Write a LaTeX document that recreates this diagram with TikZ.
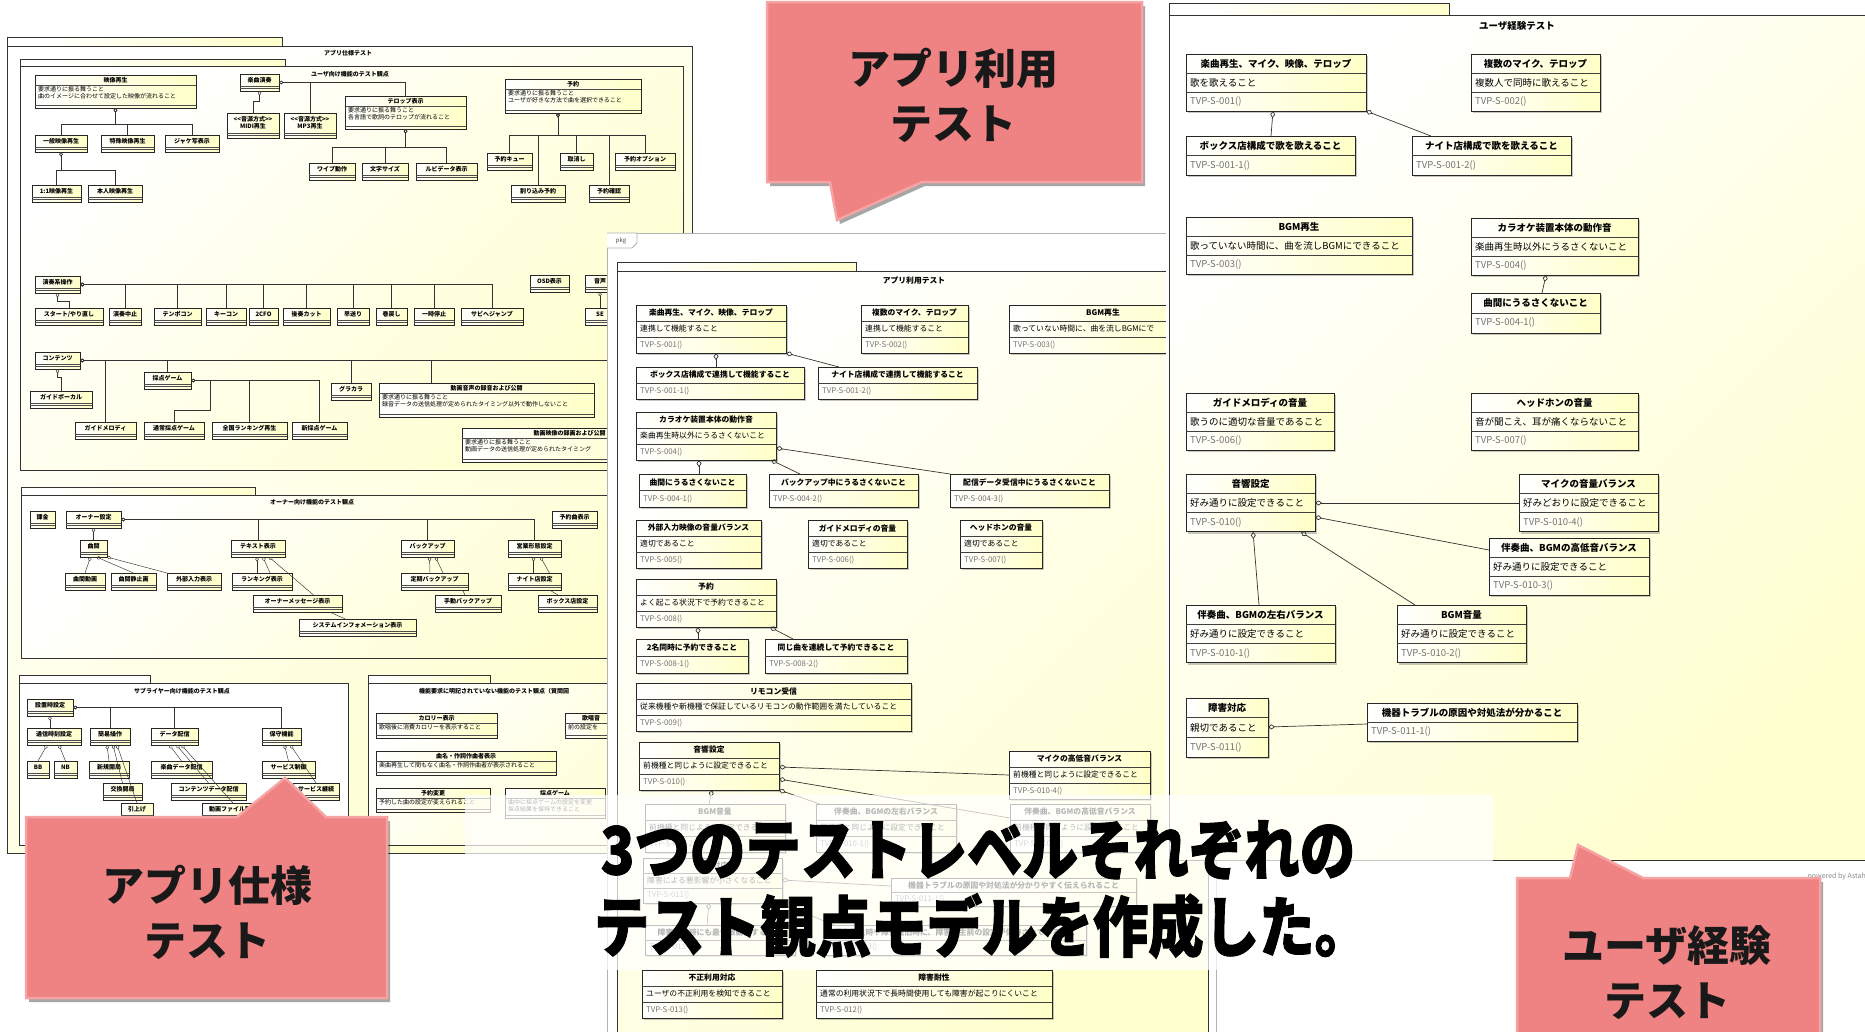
\documentclass[tikz,border=0pt]{standalone}
\usepackage{fontspec}
\setmainfont{Noto Sans CJK JP}
\newfontfamily\capfont{Noto Sans CJK JP}[BoldFeatures={FakeBold=1.6}]
\usetikzlibrary{calc,arrows.meta,shadows}

\newcommand{\pfont}{\fontsize{7.8}{9}\selectfont}

% box: title, attribute, operation
\newcommand{\tvpthree}[8]{%
	\node[cls, minimum width=#4, minimum height=3*#5, anchor=north west] (#1) at (#2,#3) {};
	\draw[rowline] ($(#1.north west)+(0,#5)$) -- ($(#1.north east)+(0,#5)$);
	\draw[rowline] ($(#1.north west)+(0,2*#5)$) -- ($(#1.north east)+(0,2*#5)$);
	\node[ttl] (#1-t) at ($(#1.north)+(0,0.5*#5)$) {#6};
	\node[att] (#1-a) at ($(#1.north west)+(4,1.5*#5)$) {#7};
	\node[opr] (#1-o) at ($(#1.north west)+(4,2.5*#5)$) {#8};}
% box: title, operation
\newcommand{\tvptwo}[7]{%
	\node[cls, minimum width=#4, minimum height=2*#5, anchor=north west] (#1) at (#2,#3) {};
	\draw[rowline] ($(#1.north west)+(0,#5)$) -- ($(#1.north east)+(0,#5)$);
	\node[ttl] (#1-t) at ($(#1.north)+(0,0.5*#5)$) {#6};
	\node[opr] (#1-o) at ($(#1.north west)+(4,1.5*#5)$) {#7};}
% small box, name only
\newcommand{\lvbox}[5]{%
	\node[lcls, minimum width=#4, minimum height=17, anchor=north west] (#1) at (#2,#3) {};
	\draw[lrow] ($(#1.north west)+(0,12)$) -- ($(#1.north east)+(0,12)$);
	\draw[lrow] ($(#1.north west)+(0,14.5)$) -- ($(#1.north east)+(0,14.5)$);
	\node[ttl] (#1-t) at ($(#1.north)+(0,6.2)$) {#5};}
% small box, two line name
\newcommand{\lvtall}[6]{%
	\node[lcls, minimum width=#4, minimum height=#5, anchor=north west] (#1) at (#2,#3) {};
	\draw[lrow] ($(#1.south west)+(0,-5)$) -- ($(#1.south east)+(0,-5)$);
	\draw[lrow] ($(#1.south west)+(0,-2.5)$) -- ($(#1.south east)+(0,-2.5)$);
	\node[ttl, align=center] (#1-t) at ($(#1.north)+(0,0.5*#5-2.5)$) {#6};}
% small box with text
\newcommand{\lvnote}[7]{%
	\node[lcls, minimum width=#4, minimum height=#5, anchor=north west] (#1) at (#2,#3) {};
	\draw[lrow] ($(#1.north west)+(0,10)$) -- ($(#1.north east)+(0,10)$);
	\draw[lrow] ($(#1.south west)+(0,-3)$) -- ($(#1.south east)+(0,-3)$);
	\node[ttl] (#1-t) at ($(#1.north)+(0,5)$) {#6};
	\node[lbody] (#1-b) at ($(#1.north west)+(3,11.5)$) {#7};}

\begin{document}
\begin{tikzpicture}[x=1pt, y=-1pt,
	cls/.style={draw=black!85, line width=0.9pt, left color=white, right color=boxyel, inner sep=0pt, outer sep=0pt,
		drop shadow={shadow xshift=1.6pt, shadow yshift=-1.6pt, fill=black, opacity=0.22}},
	lcls/.style={draw=black!85, line width=0.7pt, left color=white, right color=boxyel, inner sep=0pt, outer sep=0pt,
		drop shadow={shadow xshift=1.1pt, shadow yshift=-1.1pt, fill=black, opacity=0.22}},
	rowline/.style={draw=black!75, line width=0.6pt},
	lrow/.style={draw=black!70, line width=0.45pt},
	ttl/.style={font=\bfseries\pfont, inner sep=0pt},
	att/.style={font=\pfont, anchor=west, inner sep=0pt},
	opr/.style={font=\pfont, text=black!55, anchor=west, inner sep=0pt},
	lbody/.style={font=\pfont, anchor=north west, align=left, inner sep=0pt},
	ptitle/.style={font=\bfseries\pfont, inner sep=0pt},
	frm/.style={draw=black!80, line width=0.9pt},
	pkgfill/.style={top color=white, bottom color=panyel, shading angle=45},
	outf/.style={draw=black!30, line width=0.8pt, fill=white},
	agg/.style={{Diamond[open,length=7pt,width=5pt]}-, draw=black!80, line width=0.7pt},
	lagg/.style={{Diamond[open,length=4.5pt,width=3.5pt]}-, draw=black!80, line width=0.45pt},
	lline/.style={draw=black!80, line width=0.45pt},
	calltxt/.style={font=\bfseries\fontsize{42}{55}\selectfont, align=center, text=black!90, inner sep=0pt},
	captxt/.style={font=\capfont\bfseries\fontsize{66}{70}\selectfont, inner sep=0pt}]
	\definecolor{boxyel}{HTML}{FFFFC8}
	\definecolor{panyel}{HTML}{FFFFD0}
	\definecolor{callred}{HTML}{EF8282}
	\definecolor{callrim}{HTML}{F5A3A3}
	\useasboundingbox (0,0) rectangle (1865,1031);
	\fill[white] (0,0) rectangle (1865,1031);

	% アプリ仕様テスト
	\renewcommand{\pfont}{\fontsize{6}{7}\selectfont}
	\draw[frm, pkgfill] (7,37) rectangle (282,46);
	\draw[frm, pkgfill] (7,46) rectangle (692,853);
	\node[ptitle] (specT) at (348,53) {アプリ仕様テスト};
	% ユーザ向け
	\draw[frm, pkgfill] (20,59) rectangle (285,66);
	\draw[frm, pkgfill] (20,66) rectangle (683,470);
	\node[ptitle] (userT) at (350,74) {ユーザ向け機能のテスト観点};
	\lvnote{L1}{35}{75}{161}{33}{映像再生}{要求通りに振る舞うこと\\曲のイメージに合わせて設定した映像が流れること}
	\lvbox{L2}{35}{135}{52}{一般映像再生}
	\lvbox{L3}{101}{135}{53}{特殊映像再生}
	\lvbox{L4}{165}{135}{54}{ジャケ写表示}
	\lvbox{L5}{32}{185}{49}{1:1映像再生}
	\lvbox{L6}{88}{185}{54}{本人映像再生}
	\lvbox{L7}{240}{74}{39}{楽曲演奏}
	\lvtall{L8}{227}{113}{52}{25}{<{}<音源方式>{}>\\MIDI再生}
	\lvtall{L9}{284}{113}{52}{25}{<{}<音源方式>{}>\\MP3再生}
	\lvnote{L10}{345}{96}{121}{33}{テロップ表示}{要求通りに振る舞うこと\\各言語で歌詞のテロップが流れること}
	\lvbox{L11}{309}{163}{46}{ワイプ動作}
	\lvbox{L12}{362}{163}{46}{文字サイズ}
	\lvbox{L13}{416}{163}{61}{ルビデータ表示}
	\lvnote{L14}{505}{79}{136}{34}{予約}{要求通りに振る舞うこと\\ユーザが好きな方法で曲を選択できること}
	\lvbox{L15}{487}{153}{45}{予約キュー}
	\lvbox{L16}{511}{185}{54}{割り込み予約}
	\lvbox{L17}{560}{153}{33}{取消し}
	\lvbox{L18}{589}{185}{40}{予約確認}
	\lvbox{L19}{615}{153}{60}{予約オプション}
	\foreach \kid in {L2,L3,L4} \draw[lagg] (L1.south) -- ++(0,16) -| (\kid.north);
	\foreach \kid in {L5,L6} \draw[lagg] (L2.south) -- ++(0,18) -| (\kid.north);
	\draw[lagg] (L7.south) -- ++(0,10) -| (L8.north);
	\foreach \kid in {L9,L10} \draw[lagg] (L7.east) -| (\kid.north);
	\foreach \kid in {L11,L12,L13} \draw[lagg] (L10.south) -- ++(0,18) -| (\kid.north);
	\foreach \kid in {L15,L16,L17,L18,L19} \draw[lagg] ($(L14.south west)+(53,0)$) -- ++(0,22) -| (\kid.north);
	% 演奏系操作
	\lvbox{L20}{35}{276}{45}{演奏系操作}
	\lvbox{P1}{35}{308}{68}{スタート/やり直し}
	\lvbox{P2}{109}{308}{32}{演奏中止}
	\lvbox{P3}{154}{308}{47}{テンポコン}
	\lvbox{P4}{206}{308}{40}{キーコン}
	\lvbox{P5}{249}{308}{29}{2CFO}
	\lvbox{P6}{283}{308}{47}{後奏カット}
	\lvbox{P7}{337}{308}{32}{早送り}
	\lvbox{P8}{376}{308}{31}{巻戻し}
	\lvbox{P9}{414}{308}{40}{一時停止}
	\lvbox{P10}{461}{308}{62}{サビへジャンプ}
	\draw[lagg] (L20.south) -- ++(0,8) -| (P1.north);
	\foreach \kid in {P2,P3,P4,P5,P6,P7,P8,P9,P10} \draw[lagg] (L20.east) -| (\kid.north);
	\lvbox{L22}{530}{275}{39}{OSD表示}
	\lvbox{L23}{585}{275}{30}{音声}
	\lvbox{L23b}{585}{308}{30}{SE}
	\draw[lagg] (L23.south) -- (L23b.north);
	% コンテンツ
	\lvbox{L24}{35}{352}{45}{コンテンツ}
	\lvbox{L25}{30}{391}{62}{ガイドボーカル}
	\lvbox{L26}{75}{422}{61}{ガイドメロディ}
	\lvbox{L27}{144}{372}{47}{採点ゲーム}
	\lvbox{L28}{144}{422}{60}{通常採点ゲーム}
	\lvbox{L29}{212}{422}{75}{全国ランキング再生}
	\lvbox{L30}{292}{422}{55}{新採点ゲーム}
	\lvbox{L31}{331}{383}{40}{グラカラ}
	\lvnote{L32}{379}{383}{215}{34}{動画音声の録音および公開}{要求通りに振る舞うこと\\録音データの送信処理が定められたタイミング以外で動作しないこと}
	\lvnote{L33}{462}{428}{215}{34}{動画映像の録画および公開}{要求通りに振る舞うこと\\動画データの送信処理が定められたタイミング}
	\draw[lagg] (L24.south) -- ++(0,8) -| (L25.north);
	\foreach \kid in {L26,L27,L31} \draw[lagg] (L24.east) -| (\kid.north);
	\draw[lagg] (L24.east) -| ($(L32.north west)+(52,0)$);
	\draw[lagg] (L24.east) -| ($(L33.north west)+(150,0)$);
	\draw[lagg] (L27.east) -| ($(L28.north)+(36,-12)$) -| (L28.north);
	\foreach \kid in {L29,L30} \draw[lagg] (L27.east) -| (\kid.north);

	% オーナー向け
	\draw[frm, pkgfill] (21,487) rectangle (255,495);
	\draw[frm, pkgfill] (21,495) rectangle (683,658);
	\node[ptitle] (ownT) at (312,502) {オーナー向け機能のテスト観点};
	\lvbox{O1}{30}{511}{25}{課金}
	\lvbox{O2}{66}{511}{55}{オーナー設定}
	\lvbox{O3}{552}{511}{45}{予約曲表示}
	\lvbox{O4}{80}{540}{27}{曲間}
	\lvbox{O5}{231}{540}{54}{テキスト表示}
	\lvbox{O6}{401}{540}{53}{バックアップ}
	\lvbox{O7}{508}{540}{53}{営業形態設定}
	\lvbox{O8}{65}{573}{40}{曲間動画}
	\lvbox{O9}{111}{573}{45}{曲間静止画}
	\lvbox{O10}{167}{573}{54}{外部入力表示}
	\lvbox{O11}{232}{573}{60}{ランキング表示}
	\lvbox{O12}{253}{595}{89}{オーナーメッセージ表示}
	\lvbox{O13}{299}{619}{117}{システムインフォメーション表示}
	\lvbox{O14}{401}{573}{67}{定期バックアップ}
	\lvbox{O15}{435}{595}{66}{手動バックアップ}
	\lvbox{O16}{508}{573}{53}{ナイト店設定}
	\lvbox{O17}{538}{595}{59}{ボックス店設定}
	\draw[lagg] (O2.south) -- (O4.north);
	\foreach \kid in {O5,O6,O7} \draw[lagg] (O2.east) -| (\kid.north);
	\draw[lagg] ($(O4.south)+(-3,0)$) -- (O8.north);
	\draw[lagg] ($(O4.south)+(3,0)$) -- (O9.north);
	\draw[lagg] (O4.south east) -- (O10.north west);
	\draw[lagg] ($(O5.south)+(-1,0)$) -- ($(O11.north)+(-5,0)$);
	\draw[lagg] ($(O5.south)+(5,0)$) -- ($(O11.north)+(8,0)$);
	\draw[lagg] ($(O5.south)+(11,0)$) -- ($(O12.north)+(16,0)$);
	\draw[lline] ($(O12.south)+(32,0)$) -- ($(O13.north)+(-12,0)$);
	\draw[lagg] ($(O6.south)+(2,0)$) -- ($(O14.north west)+(29,0)$);
	\draw[lagg] ($(O6.south)+(8,0)$) -- ($(O14.north west)+(42,0)$);
	\draw[lline] ($(O14.south)+(28,0)$) -- ($(O15.north)+(-3,0)$);
	\draw[lagg] ($(O7.south)+(-1,0)$) -- ($(O16.north)+(-1,0)$);
	\draw[lagg] ($(O7.south)+(6,0)$) -- ($(O16.north)+(15,0)$);
	\draw[lline] ($(O16.south)+(15,0)$) -- ($(O17.north west)+(20,0)$);

	% サプライヤー向け
	\draw[frm, fill=white] (19,675) rectangle (150,683);
	\draw[frm, fill=white] (19,683) rectangle (348,845);
	\node[ptitle] (supT) at (182,691) {サプライヤー向け機能のテスト観点};
	\lvbox{S1}{27}{699}{46}{設置時設定}
	\lvbox{S2}{27}{728}{54}{通信時刻設定}
	\lvbox{S3}{90}{728}{40}{簡易操作}
	\lvbox{S4}{151}{728}{47}{データ配信}
	\lvbox{S5}{262}{728}{39}{保守機能}
	\lvbox{S6}{27}{761}{22}{BB}
	\lvbox{S7}{54}{761}{23}{NB}
	\lvbox{S8}{89}{761}{40}{新規開局}
	\lvbox{S9}{103}{783}{39}{交換開局}
	\lvbox{S10}{121}{803}{32}{引上げ}
	\lvbox{S11}{151}{761}{61}{楽曲データ配信}
	\lvbox{S12}{171}{783}{75}{コンテンツデータ配信}
	\lvbox{S13}{202}{803}{62}{動画ファイル配信}
	\lvbox{S14}{262}{761}{53}{サービス制御}
	\lvbox{S15}{293}{783}{46}{サービス継続}
	\draw[lagg] (S1.south) -- (S1.south |- S2.north);
	\foreach \kid in {S3,S4,S5} \draw[lagg] (S1.east) -| (\kid.north);
	\draw[lagg] ($(S2.south)+(-7,0)$) -- (S6.north);
	\draw[lagg] ($(S2.south)+(5,0)$) -- (S7.north);
	\draw[lagg] ($(S3.south)+(-3,0)$) -- (S8.north);
	\draw[lagg] ($(S3.south)+(3,0)$) -- (S9.north);
	\draw[lagg] ($(S3.south)+(7,0)$) -- (S10.north);
	\draw[lagg] ($(S4.south)+(-5,0)$) -- (S11.north);
	\draw[lagg] ($(S4.south)+(2,0)$) -- (S12.north);
	\draw[lagg] ($(S4.south)+(7,0)$) -- (S13.north);
	\draw[lagg] ($(S5.south)+(3,0)$) -- (S14.north);
	\draw[lagg] ($(S5.south)+(9,0)$) -- (S15.north);

	% 機能要求外
	\draw[frm, pkgfill] (368,675) rectangle (490,683);
	\draw[frm, pkgfill] (368,683) rectangle (683,845);
	\node[ptitle, anchor=west] (nonT) at (419,691) {機能要求に明記されていない機能のテスト観点（質問回};
	\lvnote{N1}{376}{713}{121}{25}{カロリー表示}{歌唱後に消費カロリーを表示すること}
	\lvnote{N2}{565}{713}{52}{25}{歌唱音}{前の設定を}
	\lvnote{N3}{376}{751}{180}{24}{曲名・作詞作曲者表示}{楽曲再生して間もなく曲名・作詞作曲者が表示されること}
	\lvnote{N4}{376}{788}{114}{24}{予約変更}{予約した曲の設定が変えられること}
	\lvnote{N5}{505}{788}{100}{30}{採点ゲーム}{曲中に採点ゲームの設定を変更\\採点結果を保持できること}

	% アプリ利用テスト
	\renewcommand{\pfont}{\fontsize{7.8}{9}\selectfont}
	\draw[outf] (607,233) rectangle (1216,1040);
	\draw[outf] (607,233) -- (637,233) -- (637,243) -- (632,248) -- (607,248);
	\node[font=\fontsize{6}{7}\selectfont, text=black!70, inner sep=0pt] (pkgL) at (621,240.5) {pkg};
	\draw[frm, pkgfill] (617,262) rectangle (856,271);
	\draw[frm, pkgfill] (617,271) rectangle (1208,1040);
	\node[ptitle] (useT) at (914,281) {アプリ利用テスト};
	\tvpthree{M1}{636}{305}{150}{16}{楽曲再生、マイク、映像、テロップ}{連携して機能すること}{TVP-S-001()}
	\tvpthree{M2}{861}{305}{107}{16}{複数のマイク、テロップ}{連携して機能すること}{TVP-S-002()}
	\tvpthree{M3}{1009}{305}{188}{16}{BGM再生}{歌っていない時間に、曲を流しBGMにで}{TVP-S-003()}
	\tvptwo{M4}{636}{367}{168}{16}{ボックス店構成で連携して機能すること}{TVP-S-001-1()}
	\tvptwo{M5}{818}{367}{159}{16}{ナイト店構成で連携して機能すること}{TVP-S-001-2()}
	\tvpthree{M6}{636}{412}{140}{16}{カラオケ装置本体の動作音}{楽曲再生時以外にうるさくないこと}{TVP-S-004()}
	\tvptwo{M7}{639}{474}{107}{16.5}{曲間にうるさくないこと}{TVP-S-004-1()}
	\tvptwo{M8}{769}{474}{149}{16.5}{バックアップ中にうるさくないこと}{TVP-S-004-2()}
	\tvptwo{M9}{950}{474}{159}{16.5}{配信データ受信中にうるさくないこと}{TVP-S-004-3()}
	\tvpthree{M10}{636}{520}{125}{16}{外部入力映像の音量バランス}{適切であること}{TVP-S-005()}
	\tvpthree{M11}{808}{520}{99}{16}{ガイドメロディの音量}{適切であること}{TVP-S-006()}
	\tvpthree{M12}{960}{520}{82}{16}{ヘッドホンの音量}{適切であること}{TVP-S-007()}
	\tvpthree{M13}{636}{579}{140}{16}{予約}{よく起こる状況下で予約できること}{TVP-S-008()}
	\tvptwo{M14}{636}{639}{112}{17}{2名同時に予約できること}{TVP-S-008-1()}
	\tvptwo{M15}{765}{639}{142}{17}{同じ曲を連続して予約できること}{TVP-S-008-2()}
	\tvpthree{M16}{636}{683}{275}{16}{リモコン受信}{従来機種や新機種で保証しているリモコンの動作範囲を満たしていること}{TVP-S-009()}
	\tvpthree{M17}{639}{742}{140}{16}{音響設定}{前機種と同じように設定できること}{TVP-S-010()}
	\tvpthree{M18}{1009}{751}{141}{16}{マイクの高低音バランス}{前機種と同じように設定できること}{TVP-S-010-4()}
	\tvpthree{M19}{645}{804}{140}{16}{BGM音量}{前機種と同じように設定できること}{TVP-S-010-2()}
	\tvpthree{M20}{816}{804}{140}{16}{伴奏曲、BGMの左右バランス}{前機種と同じように設定できること}{TVP-S-010-1()}
	\tvpthree{M21}{1010}{804}{140}{16}{伴奏曲、BGMの高低音バランス}{前機種と同じように設定できること}{TVP-S-010-3()}
	\tvpthree{M22}{643}{858}{139}{15}{障害対応}{障害による悪影響が小さくなること}{TVP-S-011()}
	\tvptwo{M23}{891}{878}{245}{14}{機器トラブルの原因や対処法が分かりやすく伝えられること}{TVP-S-011-1()}
	\tvptwo{M24}{645}{925}{150}{15}{障害発生時にも最低限動作すること}{TVP-S-011-2()}
	\tvptwo{M25}{824}{925}{262}{15}{障害発生時や障害復旧時に、障害発生前の設定が保持されていること}{TVP-S-011-3()}
	\tvpthree{M26}{642}{970}{140}{16}{不正利用対応}{ユーザの不正利用を検知できること}{TVP-S-013()}
	\tvpthree{M27}{816}{970}{236}{16}{障害耐性}{通常の利用状況下で長時間使用しても障害が起こりにくいこと}{TVP-S-012()}
	\draw[agg] ($(M1.south west)+(80,0)$) -- ($(M4.north west)+(80,0)$);
	\draw[agg] (M1.south east) -- ($(M5.north west)+(21,0)$);
	\draw[agg] ($(M6.south west)+(63,0)$) -- ($(M7.north west)+(60,0)$);
	\draw[agg] ($(M6.south east)+(-5,0)$) -- ($(M8.north west)+(31,0)$);
	\draw[agg] ($(M6.north east)+(0,36)$) -- (M9.north west);
	\draw[agg] ($(M13.south west)+(62,0)$) -- ($(M14.north west)+(62,0)$);
	\draw[agg] ($(M13.south east)+(-6,0)$) -- ($(M15.north west)+(28,0)$);
	\draw[agg] ($(M17.north east)+(0,25)$) -- ($(M18.north west)+(0,24)$);
	\draw[agg] ($(M17.north east)+(0,37)$) -- ($(M21.north west)+(0,14)$);
	\draw[agg] ($(M17.south west)+(73,0)$) -- ($(M19.north west)+(64,0)$);
	\draw[agg] (M17.south east) -- ($(M20.north west)+(4,0)$);
	\draw[agg] ($(M22.north east)+(0,22)$) -- ($(M23.north west)+(0,8)$);
	\draw[agg] ($(M22.south east)+(-2,0)$) -- ($(M25.north west)+(10,0)$);
	\draw[agg] ($(M22.south west)+(66,0)$) -- ($(M24.north west)+(62,0)$);

	% ユーザ経験テスト
	\renewcommand{\pfont}{\fontsize{9.5}{11}\selectfont}
	\fill[white] (1166,0) rectangle (1875,860);
	\draw[frm, pkgfill] (1169,3) rectangle (1449,15);
	\draw[frm, pkgfill] (1169,15) rectangle (1875,860);
	\node[ptitle] (uxT) at (1517,26) {ユーザ経験テスト};
	\tvpthree{R1}{1186}{54}{180}{19}{楽曲再生、マイク、映像、テロップ}{歌を歌えること}{TVP-S-001()}
	\tvpthree{R2}{1471}{54}{129}{19}{複数のマイク、テロップ}{複数人で同時に歌えること}{TVP-S-002()}
	\tvptwo{R3}{1186}{136}{169}{19.5}{ボックス店構成で歌を歌えること}{TVP-S-001-1()}
	\tvptwo{R4}{1412}{136}{159}{19.5}{ナイト店構成で歌を歌えること}{TVP-S-001-2()}
	\tvpthree{R5}{1186}{217}{226}{19}{BGM再生}{歌っていない時間に、曲を流しBGMにできること}{TVP-S-003()}
	\tvpthree{R6}{1471}{218}{167}{19}{カラオケ装置本体の動作音}{楽曲再生時以外にうるさくないこと}{TVP-S-004()}
	\tvptwo{R7}{1471}{293}{129}{20}{曲間にうるさくないこと}{TVP-S-004-1()}
	\tvpthree{R8}{1186}{393}{148}{19}{ガイドメロディの音量}{歌うのに適切な音量であること}{TVP-S-006()}
	\tvpthree{R9}{1471}{393}{167}{19}{ヘッドホンの音量}{音が聞こえ、耳が痛くならないこと}{TVP-S-007()}
	\tvpthree{R10}{1186}{474}{129}{19.3}{音響設定}{好み通りに設定できること}{TVP-S-010()}
	\tvpthree{R11}{1519}{474}{139}{19.3}{マイクの音量バランス}{好みどおりに設定できること}{TVP-S-010-4()}
	\tvpthree{R12}{1489}{538}{160}{19}{伴奏曲、BGMの高低音バランス}{好み通りに設定できること}{TVP-S-010-3()}
	\tvpthree{R13}{1186}{605}{149}{19.3}{伴奏曲、BGMの左右バランス}{好み通りに設定できること}{TVP-S-010-1()}
	\tvpthree{R14}{1397}{605}{129}{19.3}{BGM音量}{好み通りに設定できること}{TVP-S-010-2()}
	\tvpthree{R15}{1186}{698}{82}{19.7}{障害対応}{親切であること}{TVP-S-011()}
	\tvptwo{R16}{1367}{703}{210}{19}{機器トラブルの原因や対処法が分かること}{TVP-S-011-1()}
	\draw[agg] ($(R1.south west)+(87,0)$) -- ($(R3.north west)+(85,0)$);
	\draw[agg] (R1.south east) -- ($(R4.north west)+(19,0)$);
	\draw[agg] ($(R6.south west)+(75,0)$) -- ($(R7.north west)+(71,0)$);
	\draw[agg] ($(R10.north east)+(0,29)$) -- ($(R11.north west)+(0,29)$);
	\draw[agg] ($(R10.north east)+(0,43)$) -- ($(R12.north west)+(0,12)$);
	\draw[agg] ($(R10.south west)+(67,0)$) -- ($(R13.north west)+(73,0)$);
	\draw[agg] ($(R10.south east)+(-14,0)$) -- ($(R14.north west)+(18,0)$);
	\draw[agg] ($(R15.north east)+(0,29)$) -- ($(R16.north west)+(0,21)$);
	\node[font=\fontsize{7}{8}\selectfont, text=black!45, anchor=east, inner sep=0pt] (astah) at (1866,877) {powered by Astah};

	% caption
	\fill[white, opacity=0.72] (465,795) rectangle (1493,970);
	\node[captxt] (cap1) at (978,850) {\scalebox{0.84}[1]{3つのテストレベルそれぞれの}};
	\node[captxt] (cap2) at (982,926) {\scalebox{0.84}[1]{テスト観点モデルを作成した。}};

	% callouts
	\fill[callred, draw=callrim, line width=2.5pt, drop shadow={shadow xshift=3pt, shadow yshift=-4pt, fill=black, opacity=0.35}]
		(767,2) -- (1142,2) -- (1142,182) -- (922,182) -- (837,220) -- (830,182) -- (767,182) -- cycle;
	\node[calltxt] (useC) at (953,95) {アプリ利用\\テスト};
	\fill[callred, draw=callrim, line width=2.5pt, drop shadow={shadow xshift=3pt, shadow yshift=-4pt, fill=black, opacity=0.35}]
		(26,817) -- (237,817) -- (285,778) -- (326,817) -- (387,817) -- (387,998) -- (26,998) -- cycle;
	\node[calltxt] (specC) at (207,912) {アプリ仕様\\テスト};
	\fill[callred, draw=callrim, line width=2.5pt, drop shadow={shadow xshift=3pt, shadow yshift=-4pt, fill=black, opacity=0.35}]
		(1517,878) -- (1570,878) -- (1578,845) -- (1643,878) -- (1820,878) -- (1820,1060) -- (1517,1060) -- cycle;
	\node[calltxt] (uxC) at (1667,973) {ユーザ経験\\テスト};
\end{tikzpicture}
\end{document}
